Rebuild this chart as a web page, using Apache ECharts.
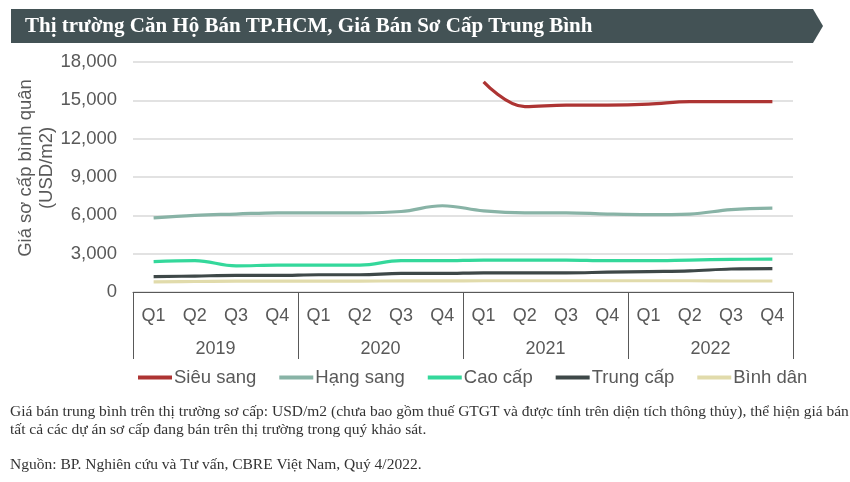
<!DOCTYPE html>
<html>
<head>
<meta charset="utf-8">
<script src="https://cdn.jsdelivr.net/npm/echarts@6/dist/echarts.min.js"></script>
<style>html,body{margin:0;padding:0;background:#fff;}#c{width:850px;height:482px;}</style>
</head>
<body>
<div id="c"></div>
<script>
const quarters = ['Q1','Q2','Q3','Q4','Q1','Q2','Q3','Q4','Q1','Q2','Q3','Q4','Q1','Q2','Q3','Q4'];
const years = ['2019','2020','2021','2022'];
const yTicks = [0, 3000, 6000, 9000, 12000, 15000, 18000];
const sieuSang = [null,null,null,null,null,null,null,null,16450,14500,14630,14630,14700,14900,14900,14900];
const hangSang = [5800,6000,6100,6200,6200,6200,6300,6750,6350,6200,6200,6100,6050,6100,6450,6570];
const caoCap = [2380,2450,2050,2100,2100,2100,2450,2450,2500,2500,2500,2450,2450,2500,2550,2580];
const trungCap = [1200,1250,1300,1300,1350,1350,1450,1450,1500,1500,1500,1550,1600,1650,1800,1830];
const binhDan = [800,820,850,850,850,850,870,870,880,880,880,880,880,880,860,860];
const seriesNames = ['Siêu sang','Hạng sang','Cao cấp','Trung cấp','Bình dân'];
const titleText = 'Thị trường Căn Hộ Bán TP.HCM, Giá Bán Sơ Cấp Trung Bình';
const yName = 'Giá sơ cấp bình quân\n(USD/m2)';
const note1 = 'Giá bán trung bình trên thị trường sơ cấp: USD/m2 (chưa bao gồm thuế GTGT và được tính trên diện tích thông thủy), thể hiện giá bán của';
const note2 = 'tất cả các dự án sơ cấp đang bán trên thị trường trong quý khảo sát.';
const note3 = 'Nguồn: BP. Nghiên cứu và Tư vấn, CBRE Việt Nam, Quý 4/2022.';

const colors = ['#ad3433','#88b3a6','#34d89b','#3e4848','#e1dbab'];
const dataSets = [sieuSang, hangSang, caoCap, trungCap, binhDan];
const sans = 'Liberation Sans, Arial, sans-serif';
const serif = 'Liberation Serif, Times New Roman, serif';

const chart = echarts.init(document.getElementById('c'), null, {renderer:'canvas'});
chart.setOption({
  animation: false,
  grid: {left: 133, right: 57, top: 62, bottom: 190},
  legend: {
    left: 133, top: 363, icon: 'rect', itemWidth: 34, itemHeight: 4, itemGap: 23,
    textStyle: {fontFamily: sans, fontSize: 18.5, color: '#595959', padding:[0,0,0,-3]},
    data: seriesNames
  },
  xAxis: [
    {type: 'category', data: quarters, position: 'bottom',
     axisLine: {show: true, lineStyle: {color: '#595959', width: 1}},
     axisTick: {show: false},
     axisLabel: {fontFamily: sans, fontSize: 18, color: '#595959', margin: 15, interval: 0}},
    {type: 'category', data: years, position: 'bottom',
     axisLine: {show: false},
     axisTick: {show: true, length: 67, interval: 0, lineStyle: {color: '#595959', width: 1}},
     axisLabel: {fontFamily: sans, fontSize: 18, color: '#595959', margin: 48, interval: 0}}
  ],
  yAxis: {
    type: 'value', min: yTicks[0], max: yTicks[yTicks.length-1], interval: 3000,
    axisLine: {show: false}, axisTick: {show: false},
    axisLabel: {fontFamily: sans, fontSize: 18.5, color: '#595959', margin: 16,
      formatter: v => v.toLocaleString('en-US')},
    splitLine: {lineStyle: {color: '#d9d9d9', width: 1.5}}
  },
  series: dataSets.map((d, i) => ({
    name: seriesNames[i], type: 'line', data: d, smooth: 0.4, showSymbol: false, symbol: 'none',
    connectNulls: false, xAxisIndex: 0,
    lineStyle: {color: colors[i], width: 3.2}, itemStyle: {color: colors[i]}
  })),
  graphic: [
    {type: 'polygon', shape: {points: [[11,9],[813,9],[823,26],[813,43],[11,43]]},
     style: {fill: '#435255'}},
    {type: 'text', x: 25, y: 27, style: {text: titleText, fill: '#ffffff',
      font: 'bold 21px ' + serif, textVerticalAlign: 'middle'}},
    {type: 'text', x: 36, y: 168, rotation: Math.PI/2,
     style: {text: yName, fill: '#595959', font: '18.5px ' + sans, textAlign: 'center',
       textVerticalAlign: 'middle', lineHeight: 21}},
    {type: 'text', x: 10, y: 412, style: {text: note1, fill: '#333', font: '15.5px ' + serif, textVerticalAlign: 'middle'}},
    {type: 'text', x: 10, y: 430, style: {text: note2, fill: '#333', font: '15.5px ' + serif, textVerticalAlign: 'middle'}},
    {type: 'text', x: 10, y: 465, style: {text: note3, fill: '#333', font: '15.5px ' + serif, textVerticalAlign: 'middle'}}
  ]
});
</script>
</body>
</html>
